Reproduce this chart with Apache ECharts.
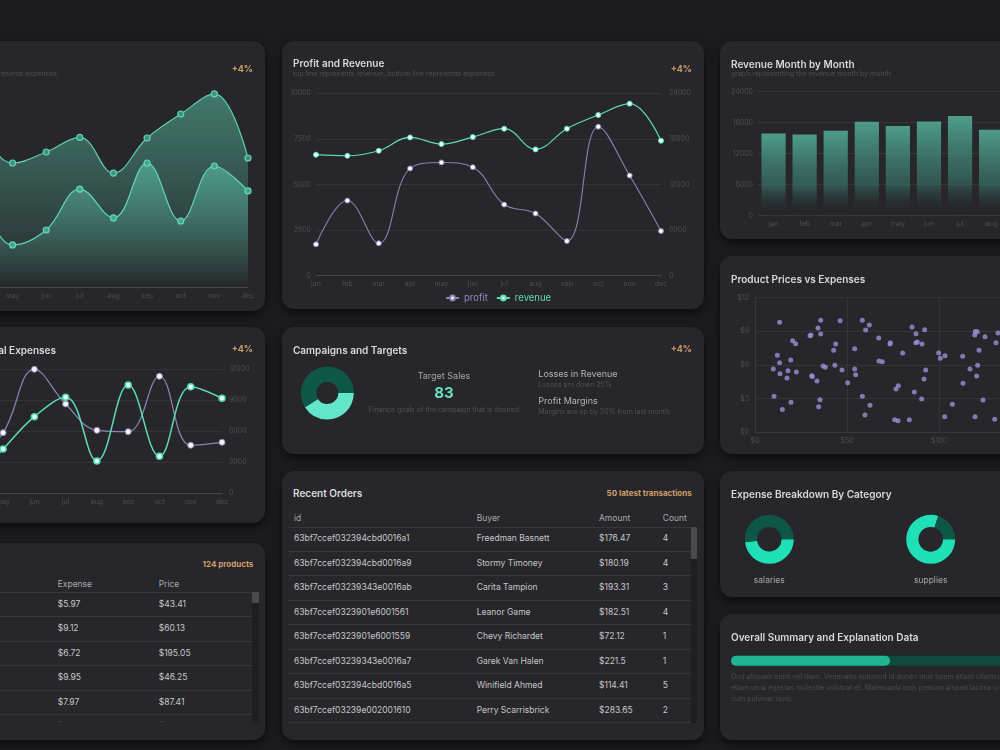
<!DOCTYPE html>
<html>
<head>
<meta charset="utf-8">
<script src="https://cdn.jsdelivr.net/npm/echarts@6/dist/echarts.min.js"></script>
<style>
*{box-sizing:border-box;}
html,body{margin:0;padding:0;}
body{width:1000px;height:750px;overflow:hidden;background:#1c1b20;font-family:Inter,"Noto Sans",sans-serif;position:relative;}
.panel{position:absolute;background:#26262b;border-radius:12px;box-shadow:0 4px 10px rgba(0,0,0,0.6);overflow:hidden;}
.chart{position:absolute;left:0;top:0;width:100%;height:100%;}
.t{position:absolute;white-space:nowrap;line-height:12px;height:12px;z-index:2;}
.title{font-size:10px;font-weight:600;color:#d9d9dc;}
.sub{font-size:7px;color:#4e4e54;}
.badge{font-size:9px;font-weight:700;color:#cf9f6a;}
.th{font-size:8.5px;color:#a9a9ad;}
.rowline{position:absolute;height:1px;background:#36363c;}
.body{position:absolute;overflow:hidden;}
.row{position:absolute;left:0;right:0;height:24.5px;}
.cell{position:absolute;top:0;line-height:23.5px;font-size:8.5px;color:#c6c6ca;white-space:nowrap;}
.track{position:absolute;background:#1f1f23;}
.thumb{position:absolute;left:0;right:0;background:#4a4a50;border-radius:1px;}
</style>
</head>
<body>

<!-- Panel A -->
<div class="panel" id="pA" style="left:-156px;top:41px;width:421px;height:270px;">
  <div class="chart" id="chartA"></div>
  <div class="t title" style="left:11px;top:16px;">Revenue and Expenses</div>
  <div class="t sub" style="right:208px;top:26.7px;">top line represents revenue, bottom line represents expenses</div>
  <div class="t badge" style="right:12px;top:21.7px;">+4%</div>
</div>

<!-- Panel B -->
<div class="panel" id="pB" style="left:282px;top:41px;width:422px;height:268px;">
  <div class="chart" id="chartB"></div>
  <div class="t title" style="left:11px;top:16.3px;">Profit and Revenue</div>
  <div class="t sub" style="left:11px;top:26.7px;">top line represents revenue, bottom line represents expenses</div>
  <div class="t badge" style="right:12px;top:21.7px;">+4%</div>
</div>

<!-- Panel C -->
<div class="panel" id="pC" style="left:720px;top:41px;width:422px;height:198px;">
  <div class="chart" id="chartC"></div>
  <div class="t title" style="left:11px;top:16.7px;">Revenue Month by Month</div>
  <div class="t sub" style="left:11px;top:26.7px;">graph representing the revenue month by month</div>
</div>

<!-- Panel D -->
<div class="panel" id="pD" style="left:-156px;top:327px;width:421px;height:196px;">
  <div class="chart" id="chartD"></div>
  <div class="t title" style="right:209px;top:17.3px;">Revenue and Operational Expenses</div>
  <div class="t badge" style="right:12px;top:16.3px;">+4%</div>
</div>

<!-- Panel E -->
<div class="panel" id="pE" style="left:282px;top:327px;width:422px;height:127px;">
  <div class="chart" id="chartE"></div>
  <div class="t title" style="left:11px;top:17.3px;">Campaigns and Targets</div>
  <div class="t badge" style="right:12px;top:16.3px;">+4%</div>
  <div class="t" style="left:62px;width:200px;text-align:center;top:42.7px;font-size:9px;color:#a5a5a8;">Target Sales</div>
  <div class="t" id="targetValue" style="left:62px;width:200px;text-align:center;top:57px;height:18px;line-height:18px;font-size:15px;font-weight:700;color:#6ee0c1;"></div>
  <div class="t" style="left:62px;width:200px;text-align:center;top:77.3px;font-size:7px;color:#4f4f55;">Finance goals of the campaign that is desired</div>
  <div class="t" style="left:256.3px;top:41px;font-size:9px;color:#b5b5b8;">Losses in Revenue</div>
  <div class="t" style="left:256.3px;top:52.3px;font-size:7px;color:#4f4f55;">Losses are down 25%</div>
  <div class="t" style="left:256.3px;top:68px;font-size:9px;color:#b5b5b8;">Profit Margins</div>
  <div class="t" style="left:256.3px;top:79.3px;font-size:7px;color:#4f4f55;">Margins are up by 30% from last month.</div>
</div>

<!-- Panel F -->
<div class="panel" id="pF" style="left:720px;top:256px;width:422px;height:198px;">
  <div class="chart" id="chartF"></div>
  <div class="t title" style="left:11px;top:16.7px;">Product Prices vs Expenses</div>
</div>

<!-- Panel G -->
<div class="panel" id="pG" style="left:-156px;top:543px;width:421px;height:197px;">
  <div class="t title" style="left:11px;top:15.3px;">Products</div>
  <div class="t badge" style="right:11.7px;top:15.3px;font-size:8px;">124 products</div>
  <div class="t th" style="left:213.7px;top:34.7px;">Expense</div>
  <div class="t th" style="left:314.7px;top:34.7px;">Price</div>
  <div class="rowline" style="left:6px;width:401.7px;top:49.3px;"></div>
  <div class="body" id="bodyG" style="left:0;top:49.8px;width:408px;height:129px;"></div>
  <div class="track" style="left:408.3px;width:6.7px;top:49.3px;height:130.7px;"><div class="thumb" style="top:0;height:11px;"></div></div>
</div>

<!-- Panel H -->
<div class="panel" id="pH" style="left:282px;top:471px;width:422px;height:269px;">
  <div class="t title" style="left:11px;top:16.3px;">Recent Orders</div>
  <div class="t badge" style="right:12.3px;top:16px;font-size:8px;">50 latest transactions</div>
  <div class="t th" style="left:12px;top:40.7px;">id</div>
  <div class="t th" style="left:194.7px;top:40.7px;">Buyer</div>
  <div class="t th" style="left:317px;top:40.7px;">Amount</div>
  <div class="t th" style="left:380.7px;top:40.7px;">Count</div>
  <div class="rowline" style="left:6.3px;width:402.4px;top:55.7px;"></div>
  <div class="body" id="bodyH" style="left:0;top:56.2px;width:409px;height:196px;"></div>
  <div class="track" style="left:409.3px;width:6px;top:55.7px;height:196.3px;"><div class="thumb" style="top:0;height:32.6px;"></div></div>
</div>

<!-- Panel I -->
<div class="panel" id="pI" style="left:720px;top:471px;width:422px;height:126px;">
  <div class="chart" id="chartI"></div>
  <div class="t title" style="left:11px;top:16.7px;">Expense Breakdown By Category</div>
  <div class="t" style="left:-50.7px;width:200px;text-align:center;top:102.7px;font-size:8.5px;color:#a8a8ab;">salaries</div>
  <div class="t" style="left:110.7px;width:200px;text-align:center;top:102.7px;font-size:8.5px;color:#a8a8ab;">supplies</div>
</div>

<!-- Panel J -->
<div class="panel" id="pJ" style="left:720px;top:614px;width:422px;height:126px;">
  <div class="chart" id="chartJ"></div>
  <div class="t title" style="left:11px;top:16.7px;">Overall Summary and Explanation Data</div>
  <div class="t" style="left:11px;top:56.7px;height:36px;line-height:11.2px;font-size:7px;color:#4a4a50;">Orci aliquam enim vel diam. Venenatis euismod id donec mus lorem etiam ullamcorper odio sed. Ipsum non sed gravida<br>etiam urna egestas molestie volutpat et. Malesuada quis pretium aliquet lacinia ornare sed. In volutpat nullam at est id<br>cum pulvinar nunc.</div>
</div>

<script>
// ---------------- DATA ----------------
const months = ['jan','feb','mar','apr','may','jun','jul','aug','sep','oct','nov','dec'];
// Profit and Revenue
const profitValues  = [1720, 4120, 1775, 5880, 6210, 5950, 3900, 3410, 1900, 8170, 5490, 2450];
const revenueValues = [15920, 15780, 16440, 18200, 17320, 18240, 19340, 16620, 19340, 21140, 22640, 17760];
// Revenue month by month (bars)
const monthlyRevenue = [15930, 15740, 16450, 18190, 17350, 18250, 19290, 16650, 19340, 21140, 22640, 17760];
// Revenue and Expenses (area, panel A)
const areaRevenue  = [15000, 15400, 16300, 18000, 15340, 16700, 18500, 14100, 18430, 21400, 23880, 15960];
const areaExpenses = [8000, 6500, 7800, 9000, 5200, 7050, 12120, 8540, 15340, 8165, 14970, 11880];
// Revenue and Operational Expenses (panel D)
const opExpenses = [7000, 4000, 9000, 2900, 5835, 11970, 8615, 6065, 5935, 11300, 4615, 4905];
const opRevenue  = [6000, 8500, 5000, 1200, 4260, 7390, 9260, 3100, 10450, 3550, 10290, 9165];
// Campaign target
const targetSales = 83;
const campaignSplit = [41, 59];
// Expense breakdown
const expenseCategories = ['salaries', 'supplies'];
const salariesSplit = [48, 52];
const suppliesSplit = [80, 20];
// Summary progress
const summaryProgress = 39;
// Product prices vs expenses: [price, expense]
const productPoints = [
 [9.96,5.63],[10.33,3.19],[12.14,6.85],[13.41,9.80],[13.41,6.19],[13.59,5.21],[14.86,2.00],[17.39,4.82],
 [17.93,5.48],[19.38,6.43],[19.57,2.65],[20.47,8.16],[22.10,7.89],[22.46,5.36],[29.89,8.61],[30.43,8.67],
 [30.80,5.03],[31.16,4.97],[33.70,4.56],[34.24,9.29],[34.60,2.26],[35.33,2.89],[35.69,9.98],[35.69,8.76],
 [36.96,5.90],[38.22,5.78],[42.75,7.30],[43.41,5.97],[43.84,7.86],[46.25,9.95],[47.28,5.54],[50.36,4.41],
 [54.17,7.44],[54.17,5.63],[54.71,5.12],[58.33,9.98],[58.33,3.19],[59.78,1.52],[60.13,9.12],[62.14,9.56],
 [62.50,2.38],[67.21,8.40],[67.39,6.34],[69.20,6.28],[73.37,7.86],[73.55,7.98],[75.91,1.10],[76.63,3.84],
 [77.72,1.01],[77.90,4.14],[80.25,7.06],[83.88,1.10],[85.33,9.38],[86.59,3.57],[87.50,8.78],[87.41,7.97],
 [88.22,8.04],[90.58,2.95],[90.76,7.86],[91.85,4.73],[92.21,9.14],[92.75,5.54],[99.82,7.06],[100.72,6.58],
 [103.08,1.37],[103.26,6.82],[107.25,2.47],[112.86,6.76],[113.04,4.35],[116.85,5.63],[119.38,8.67],[119.57,1.37],
 [119.75,8.99],[120.47,5.00],[120.83,8.96],[121.01,5.96],[121.74,7.30],[123.91,2.86],[125.00,8.52],[130.25,1.13],
 [130.98,7.98],[132.07,8.84],[195.05,6.72]
];
// Products table
const productExpense = [5.97, 9.12, 6.72, 9.95, 7.97, 4.41];
const productPrice   = [43.41, 60.13, 195.05, 46.25, 87.41, 50.36];
// Orders table
const orderIds = ['63bf7ccef032394cbd0016a1','63bf7ccef032394cbd0016a9','63bf7ccef03239343e0016ab','63bf7ccef0323901e6001561','63bf7ccef0323901e6001559','63bf7ccef03239343e0016a7','63bf7ccef032394cbd0016a5','63bf7ccef03239e002001610'];
const orderBuyers = ['Freedman Basnett','Stormy Timoney','Carita Tampion','Leanor Game','Chevy Richardet','Garek Van Halen','Winifield Ahmed','Perry Scarrisbrick'];
const orderAmounts = [176.47, 180.19, 193.31, 182.51, 72.12, 221.5, 114.41, 283.65];
const orderCounts = [4, 4, 3, 4, 1, 1, 5, 2];

// ---------------- TABLES ----------------
function addRow(body, i, cells){
  const r = document.createElement('div');
  r.className = 'row';
  r.style.top = (i*24.5) + 'px';
  cells.forEach(c => {
    const d = document.createElement('div');
    d.className = 'cell';
    d.style.left = c[0] + 'px';
    d.textContent = c[1];
    r.appendChild(d);
  });
  const ln = document.createElement('div');
  ln.className = 'rowline';
  ln.style.left = body.dataset.l + 'px';
  ln.style.width = body.dataset.w + 'px';
  ln.style.top = '23.5px';
  r.appendChild(ln);
  body.appendChild(r);
}
const bodyH = document.getElementById('bodyH');
bodyH.dataset.l = 6.3; bodyH.dataset.w = 402.4;
orderIds.forEach((id,i) => addRow(bodyH, i, [[12,id],[194.7,orderBuyers[i]],[317,'$'+orderAmounts[i]],[380.7,String(orderCounts[i])]]));
const bodyG = document.getElementById('bodyG');
bodyG.dataset.l = 6; bodyG.dataset.w = 401.7;
productExpense.forEach((e,i) => addRow(bodyG, i, [[213.7,'$'+e.toFixed(2)],[314.7,'$'+productPrice[i].toFixed(2)]]));
document.getElementById('targetValue').textContent = String(targetSales);

// ---------------- CHARTS ----------------
const FONT = 'Inter';
const lblColor = '#4d4d53';
const gridLine = '#333338';
const plain = v => String(v);
function grad(c0, c1){ return {type:'linear',x:0,y:0,x2:0,y2:1,colorStops:[{offset:0,color:c0},{offset:1,color:c1}]}; }

// Panel A
echarts.init(document.getElementById('chartA')).setOption({
  animation:false, textStyle:{fontFamily:FONT},
  grid:{left:34,right:17,top:52,bottom:24,outerBoundsMode:'none'},
  xAxis:{type:'category',data:months,boundaryGap:false,axisLine:{lineStyle:{color:'#47474d'}},axisTick:{show:false},
    axisLabel:{color:lblColor,fontSize:7,margin:5,interval:0}},
  yAxis:{type:'value',min:0,max:24000,interval:6000,splitLine:{show:false},axisLabel:{color:lblColor,fontSize:7,formatter:plain}},
  series:[
    {type:'line',name:'revenue',data:areaRevenue,smooth:0.4,symbol:'circle',symbolSize:6,
      lineStyle:{color:'#5fcfb0',width:1.2},itemStyle:{color:'#3e9180',borderColor:'#5fd3b3',borderWidth:1.2},
      areaStyle:{color:grad('rgba(84,178,152,0.85)','rgba(84,178,152,0.02)')}},
    {type:'line',name:'expenses',data:areaExpenses,smooth:0.4,symbol:'circle',symbolSize:6,
      lineStyle:{color:'#62d6b6',width:1.2},itemStyle:{color:'#45a58f',borderColor:'#62d8b8',borderWidth:1.2},
      areaStyle:{color:grad('rgba(96,206,176,0.8)','rgba(96,206,176,0.0)')}}
  ]
});

// Panel B
echarts.init(document.getElementById('chartB')).setOption({
  animation:false, textStyle:{fontFamily:FONT},
  grid:{left:34,right:43,top:52.3,bottom:33.3,outerBoundsMode:'none'},
  legend:{left:158,top:247,itemWidth:13,itemHeight:6,itemGap:8,textStyle:{fontSize:9.5,fontFamily:FONT},
    data:[{name:'profit',textStyle:{color:'#8f88c2'}},{name:'revenue',textStyle:{color:'#5ddbb9'}}]},
  xAxis:{type:'category',data:months,boundaryGap:false,axisLine:{lineStyle:{color:'#45454b'}},axisTick:{show:false},
    axisLabel:{color:lblColor,fontSize:7,margin:5,interval:0}},
  yAxis:[
    {type:'value',min:0,max:10000,interval:2500,axisLabel:{color:lblColor,fontSize:7,margin:5,formatter:plain},splitLine:{lineStyle:{color:gridLine}}},
    {type:'value',min:0,max:24000,interval:6000,position:'right',axisLabel:{color:lblColor,fontSize:7,margin:8,formatter:plain},splitLine:{show:false}}
  ],
  series:[
    {type:'line',name:'profit',data:profitValues,yAxisIndex:0,smooth:0.4,symbol:'circle',symbolSize:5,
      lineStyle:{color:'#8a83b3',width:1.1},itemStyle:{color:'#ffffff',borderColor:'#8a83b3',borderWidth:1}},
    {type:'line',name:'revenue',data:revenueValues,yAxisIndex:1,smooth:0.4,symbol:'circle',symbolSize:5,
      lineStyle:{color:'#5ddbb9',width:1.2},itemStyle:{color:'#eafff8',borderColor:'#5ddbb9',borderWidth:1}}
  ]
});

// Panel C
echarts.init(document.getElementById('chartC')).setOption({
  animation:false, textStyle:{fontFamily:FONT},
  grid:{left:38,right:11,top:50.7,bottom:23.3,outerBoundsMode:'none'},
  xAxis:{type:'category',data:months,axisLine:{lineStyle:{color:'#36363c'}},axisTick:{show:false},
    axisLabel:{color:lblColor,fontSize:7,margin:5,interval:0}},
  yAxis:{type:'value',min:0,max:24000,interval:6000,axisLabel:{color:lblColor,fontSize:7,margin:5,formatter:plain},splitLine:{lineStyle:{color:gridLine}}},
  series:[{type:'bar',data:monthlyRevenue,barWidth:'78%',
    itemStyle:{color:{type:'linear',x:0,y:0,x2:0,y2:1,colorStops:[
      {offset:0,color:'rgba(80,164,143,0.95)'},{offset:0.65,color:'rgba(60,122,108,0.6)'},{offset:1,color:'rgba(38,38,43,0)'}]}}}]
});

// Panel D
echarts.init(document.getElementById('chartD')).setOption({
  animation:false, textStyle:{fontFamily:FONT},
  grid:{left:34,right:43,top:42,bottom:30,outerBoundsMode:'none'},
  xAxis:{type:'category',data:months,boundaryGap:false,axisLine:{lineStyle:{color:'#45454b'}},axisTick:{show:false},
    axisLabel:{color:lblColor,fontSize:7,margin:5,interval:0}},
  yAxis:{type:'value',position:'right',min:0,max:12000,interval:3000,axisLabel:{color:lblColor,fontSize:7,margin:7,formatter:plain},splitLine:{lineStyle:{color:gridLine}}},
  series:[
    {type:'line',name:'expenses',data:opExpenses,smooth:0.4,symbol:'circle',symbolSize:6,
      lineStyle:{color:'#8d86b3',width:1.2},itemStyle:{color:'#f4f4f8',borderColor:'#8d86b3',borderWidth:1}},
    {type:'line',name:'revenue',data:opRevenue,smooth:0.4,symbol:'circle',symbolSize:6,
      lineStyle:{color:'#5ddbb9',width:1.5},itemStyle:{color:'#e6fff7',borderColor:'#4fd8b4',borderWidth:1.5}}
  ]
});

// Panel E donut
echarts.init(document.getElementById('chartE')).setOption({
  animation:false,
  series:[{type:'pie',center:[45.3,66],radius:[11,26.5],startAngle:0,clockwise:true,silent:true,label:{show:false},labelLine:{show:false},
    data:[{name:'achieved',value:campaignSplit[0],itemStyle:{color:'#63e6c8'}},{name:'remaining',value:campaignSplit[1],itemStyle:{color:'#0f5746'}}]}]
});

// Panel F scatter
echarts.init(document.getElementById('chartF')).setOption({
  animation:false, textStyle:{fontFamily:FONT},
  grid:{left:35,right:19,top:41.7,bottom:22,outerBoundsMode:'none'},
  xAxis:{type:'value',min:0,max:200,interval:50,axisLine:{show:true,lineStyle:{color:'#38383e'}},axisTick:{show:false},
    axisLabel:{color:lblColor,fontSize:7,margin:5,formatter:v=>'$'+v},splitLine:{show:true,lineStyle:{color:gridLine}}},
  yAxis:{type:'value',min:0,max:12,interval:3,axisLine:{show:true,lineStyle:{color:'#38383e'}},axisTick:{show:false},
    axisLabel:{color:lblColor,fontSize:7,margin:6,formatter:v=>'$'+v},splitLine:{show:true,lineStyle:{color:gridLine}}},
  series:[{type:'scatter',data:productPoints,symbolSize:5,itemStyle:{color:'#9a8fd8'}}]
});

// Panel I donuts
echarts.init(document.getElementById('chartI')).setOption({
  animation:false,
  series:[
    {type:'pie',name:expenseCategories[0],center:[49.3,68.3],radius:[12.3,24.5],startAngle:0,clockwise:true,silent:true,label:{show:false},labelLine:{show:false},
      data:[{value:salariesSplit[0],itemStyle:{color:'#1fe0b6'}},{value:salariesSplit[1],itemStyle:{color:'#0e5646'}}]},
    {type:'pie',name:expenseCategories[1],center:[210.7,68.3],radius:[12.3,24.5],startAngle:0,clockwise:true,silent:true,label:{show:false},labelLine:{show:false},
      data:[{value:suppliesSplit[0],itemStyle:{color:'#1fe0b6'}},{value:suppliesSplit[1],itemStyle:{color:'#0e5646'}}]}
  ]
});

// Panel J progress bar
echarts.init(document.getElementById('chartJ')).setOption({
  animation:false,
  grid:{left:11,top:41.7,width:408,height:10,outerBoundsMode:'none'},
  xAxis:{type:'value',min:0,max:100,show:false},
  yAxis:{type:'category',data:['summary'],show:false},
  series:[{type:'bar',data:[summaryProgress],barWidth:10,silent:true,showBackground:true,
    backgroundStyle:{color:'#0e4a3d',borderRadius:5},itemStyle:{color:'#1fb592',borderRadius:5}}]
});
</script>
</body>
</html>
